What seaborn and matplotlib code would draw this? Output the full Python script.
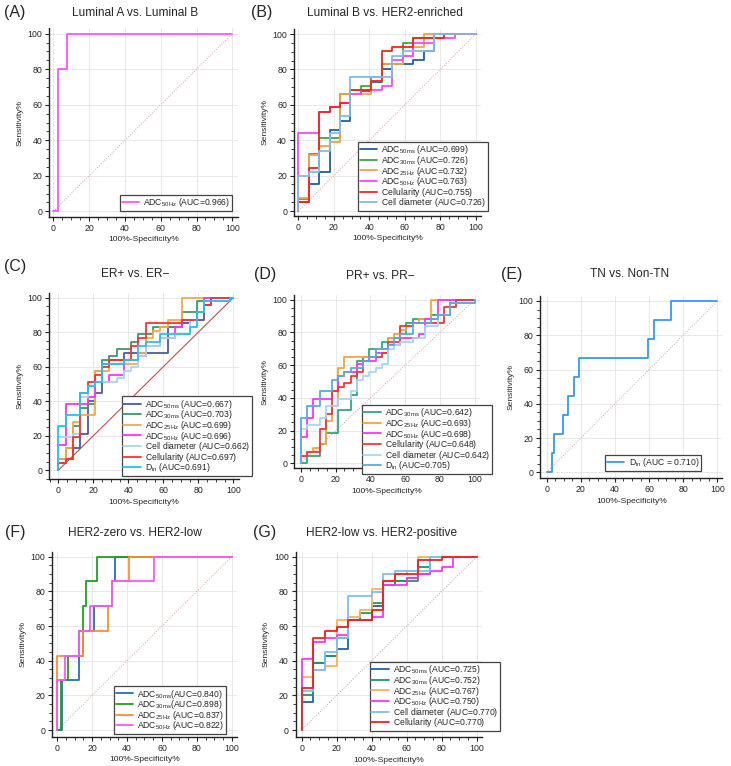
import matplotlib
matplotlib.use("Agg")
import matplotlib.pyplot as plt
import seaborn as sns
from matplotlib.ticker import MultipleLocator

# ROC step curves: fpr = 100%-specificity where sensitivity jumps, tpr = level held after it
a_labels = ["ADC$_{\\mathrm{50Hz}}$ (AUC=0.966)"]
a_colors = ["#ff55ff"]
a_fpr = [[0, 2.4, 7.5]]
a_tpr = [[0, 80, 100]]

b_labels = ["ADC$_{\\mathrm{50ms}}$ (AUC=0.699)", "ADC$_{\\mathrm{30ms}}$ (AUC=0.726)",
            "ADC$_{\\mathrm{25Hz}}$ (AUC=0.732)", "ADC$_{\\mathrm{50Hz}}$ (AUC=0.763)",
            "Cellularity (AUC=0.755)", "Cell diameter (AUC=0.726)"]
b_colors = ["#1f5fa8", "#3cab3c", "#f5a04a", "#ff44ff", "#ff2020", "#7fbcf0"]
b_fpr = [
    [0, 5.9, 11.8, 17.6, 23.5, 29.4, 35.3, 41.2, 47.1, 52.9, 64.7, 70.6, 76.5],
    [0, 5.9, 11.8, 23.5, 29.4, 35.3, 41.2, 47.1, 58.8, 64.7, 76.5],
    [0, 5.9, 11.8, 17.6, 23.5, 41.2, 47.1, 58.8, 64.7, 70.6],
    [0, 11.8, 17.6, 23.5, 29.4, 35.3, 47.1, 52.9, 58.8, 64.7, 76.5, 88.2],
    [0, 5.9, 11.8, 17.6, 23.5, 29.4, 41.2, 47.1, 52.9, 64.7, 82.4],
    [0, 5.9, 11.8, 17.6, 23.5, 29.4, 52.9, 58.8, 76.5],
]
b_tpr = [
    [5, 15, 22, 46, 51, 66, 68, 73, 80.5, 83, 85.4, 90.2, 100],
    [7, 32, 41.5, 66, 68.3, 70.7, 75.6, 82.9, 95.1, 97.6, 100],
    [7.3, 31.7, 36.6, 39, 65.9, 73.2, 82.9, 87.8, 92.7, 100],
    [43.9, 56.1, 58.5, 61, 65.9, 68.3, 70.7, 85.4, 87.8, 95.1, 97.6, 100],
    [4.9, 24.4, 56.1, 58.5, 61, 68.3, 73.2, 90.2, 92.7, 97.6, 100],
    [19.5, 22, 34.1, 43.9, 53.7, 75.6, 87.8, 90.2, 100],
]

c_labels = ["ADC$_{\\mathrm{50ms}}$ (AUC=0.667)", "ADC$_{\\mathrm{30ms}}$ (AUC=0.703)",
            "ADC$_{\\mathrm{25Hz}}$ (AUC=0.699)", "ADC$_{\\mathrm{50Hz}}$ (AUC=0.696)",
            "Cell diameter (AUC=0.662)", "Cellularity (AUC=0.697)", "D$_{\\mathrm{in}}$ (AUC=0.691)"]
c_colors = ["#4a5aa8", "#3a9a6a", "#f8a848", "#ff33ff", "#a8d4f5", "#ff3030", "#22c4f2"]
c_fpr = [
    [0, 4.2, 8.3, 12.5, 16.7, 20.8, 25, 29.2, 37.5, 62.5, 66.7, 70.8, 75, 83.3, 87.5],
    [0, 4.2, 8.3, 12.5, 16.7, 20.8, 25, 29.2, 33.3, 41.7, 45.8, 54.2, 70.8, 79.2, 97.9],
    [0, 4.2, 8.3, 12.5, 20.8, 29.2, 45.8, 50, 54.2, 58.3, 62.5, 70.8],
    [0, 4.2, 12.5, 16.7, 20.8, 29.2, 37.5, 45.8, 50, 58.3, 66.7, 70.8, 79.2, 83.3],
    [0, 8.3, 12.5, 16.7, 20.8, 29.2, 33.3, 37.5, 41.7, 45.8, 50, 58.3, 66.7, 75, 79.2, 83.3, 97.9],
    [0, 4.2, 8.3, 12.5, 16.7, 20.8, 25, 29.2, 41.7, 45.8, 50, 70.8, 79.2, 83.3, 87.5],
    [0, 4.2, 12.5, 16.7, 20.8, 25, 37.5, 45.8, 50, 58.3, 75, 79.2, 83.3, 97.9],
]
c_tpr = [
    [6.4, 6.4, 12.8, 21.3, 40.4, 44.7, 61.7, 63.8, 68.1, 83, 83, 85.1, 87.2, 95.7, 100],
    [4.3, 12.8, 25.5, 36.2, 38.3, 57.4, 63.8, 66, 70.2, 74.5, 78.7, 83, 91.5, 97.9, 100],
    [6.4, 12.8, 27.7, 31.9, 57.4, 61.7, 68.1, 76.6, 80.9, 83, 87.2, 100],
    [14.9, 38.3, 38.3, 42.6, 51.1, 55.3, 63.8, 66, 72.3, 76.6, 83, 87.2, 91.5, 100],
    [19.1, 21.3, 42.6, 48.9, 51.1, 51.1, 53.2, 57.4, 59.6, 66, 72.3, 76.6, 78.7, 87.2, 91.5, 97.9, 100],
    [4.3, 6.4, 19.1, 44.7, 51.1, 55.3, 59.6, 63.8, 72.3, 76.6, 85.1, 87.2, 91.5, 95.7, 100],
    [25.5, 31.9, 44.7, 48.9, 51.1, 61.7, 63.8, 72.3, 74.5, 78.7, 83, 91.5, 97.9, 100],
]

d_labels = ["ADC$_{\\mathrm{30ms}}$ (AUC=0.642)", "ADC$_{\\mathrm{25Hz}}$ (AUC=0.693)",
            "ADC$_{\\mathrm{50Hz}}$ (AUC=0.698)", "Cellularity (AUC=0.648)",
            "Cell diameter (AUC=0.642)", "D$_{\\mathrm{in}}$ (AUC=0.705)"]
d_colors = ["#2fa878", "#ffa040", "#ff33ff", "#ff3333", "#a8d4f8", "#5aa8e8"]
d_fpr = [
    [0, 3.6, 10.7, 14.3, 21.4, 28.6, 32.1, 35.7, 39.3, 46.4, 50, 57.1, 60.7, 64.3, 75, 85.7, 89.3],
    [0, 3.6, 7.1, 10.7, 14.3, 17.9, 21.4, 25, 35.7, 42.9, 50, 53.6, 57.1, 60.7, 64.3, 67.9, 75],
    [0, 3.6, 7.1, 14.3, 17.9, 21.4, 25, 32.1, 35.7, 42.9, 50, 57.1, 67.9, 71.4, 78.6],
    [0, 3.6, 10.7, 14.3, 17.9, 21.4, 25, 28.6, 32.1, 35.7, 39.3, 46.4, 50, 57.1, 64.3, 82.1, 89.3],
    [0, 3.6, 10.7, 14.3, 21.4, 28.6, 32.1, 35.7, 39.3, 42.9, 46.4, 50, 53.6, 57.1, 64.3, 71.4, 78.6, 85.7, 100],
    [0, 3.6, 10.7, 17.9, 21.4, 25, 28.6, 35.7, 39.3, 42.9, 50, 53.6, 57.1, 64.3, 75, 78.6, 85.7, 100],
]
d_tpr = [
    [0, 4.7, 11.6, 18.6, 32.6, 41.9, 62.8, 65.1, 69.8, 74.4, 76.7, 79.1, 86, 88.4, 90.7, 97.7, 100],
    [4.7, 7, 9.3, 11.6, 25.6, 34.9, 58.1, 65.1, 65.1, 69.8, 76.7, 79.1, 81.4, 83.7, 86, 88.4, 100],
    [16.3, 27.9, 39.5, 39.5, 44.2, 53.5, 55.8, 60.5, 62.8, 67.4, 72.1, 76.7, 79.1, 88.4, 100],
    [4.7, 7, 20.9, 30.2, 44.2, 46.5, 48.8, 53.5, 55.8, 62.8, 65.1, 67.4, 74.4, 83.7, 86, 95.3, 100],
    [20.9, 23.3, 27.9, 34.9, 39.5, 44.2, 51.2, 53.5, 55.8, 58.1, 60.5, 69.8, 72.1, 74.4, 76.7, 83.7, 90.7, 97.7, 100],
    [27.9, 34.9, 44.2, 51.2, 53.5, 55.8, 58.1, 62.8, 65.1, 69.8, 72.1, 76.7, 79.1, 86, 88.4, 90.7, 97.7, 100],
]

e_labels = ["D$_{\\mathrm{in}}$ (AUC = 0.710)"]
e_colors = ["#3399ff"]
e_fpr = [[0, 2.9, 4.5, 9.4, 12.7, 16, 19.1, 59.6, 62.9, 72.7]]
e_tpr = [[0, 11.1, 22.2, 33.3, 44.4, 55.6, 66.7, 77.8, 88.9, 100]]

f_labels = ["ADC$_{\\mathrm{50ms}}$(AUC=0.840)", "ADC$_{\\mathrm{30ms}}$(AUC=0.898)",
            "ADC$_{\\mathrm{25Hz}}$ (AUC=0.837)", "ADC$_{\\mathrm{50Hz}}$ (AUC=0.822)"]
f_colors = ["#2a6ebb", "#1fa01f", "#ff8c30", "#ff55ff"]
f_fpr = [
    [0, 2.9, 12.5, 14.6, 20.8, 31.3, 32.8],
    [0, 2.0, 6.3, 12.5, 14.6, 16.7, 22.9],
    [0, 14.6, 29.2, 31.3, 41.1],
    [0, 4.2, 12.5, 18.8, 31.3, 55.2],
]
f_tpr = [
    [0, 28.6, 42.9, 57.1, 71.4, 85.7, 100],
    [0, 28.6, 42.9, 57.1, 71.4, 85.7, 100],
    [42.9, 57.1, 71.4, 85.7, 100],
    [28.6, 42.9, 57.1, 71.4, 85.7, 100],
]

g_labels = ["ADC$_{\\mathrm{50ms}}$ (AUC=0.725)", "ADC$_{\\mathrm{30ms}}$ (AUC=0.752)",
            "ADC$_{\\mathrm{25Hz}}$ (AUC=0.767)", "ADC$_{\\mathrm{50Hz}}$ (AUC=0.750)",
            "Cell diameter (AUC=0.770)", "Cellularity (AUC=0.770)"]
g_colors = ["#2060b0", "#1a9a6a", "#ffb060", "#ff33ff", "#7fbff5", "#ff1a1a"]
g_fpr = [
    [0, 6.7, 13.3, 20, 26.7, 40, 46.7, 53.3, 60, 66.7, 73.3],
    [0, 6.7, 13.3, 20, 26.7, 33.3, 40, 46.7, 53.3, 66.7, 73.3],
    [0, 6.7, 13.3, 20, 26.7, 33.3, 40, 46.7, 53.3, 60, 66.7],
    [0, 6.7, 13.3, 20, 26.7, 40, 46.7, 53.3, 60, 66.7, 73.3, 80, 86.7],
    [0, 6.7, 13.3, 20, 26.7, 40, 46.7, 53.3, 73.3],
    [0, 6.7, 13.3, 20, 26.7, 40, 46.7, 53.3, 66.7, 80],
]
g_tpr = [
    [16.3, 38.8, 42.9, 46.9, 63.3, 71.4, 83.7, 85.7, 87.8, 89.8, 100],
    [20.4, 38.8, 42.9, 53.1, 63.3, 67.3, 73.5, 83.7, 85.7, 93.9, 100],
    [30.6, 34.7, 36.7, 63.3, 65.3, 69.4, 81.6, 85.7, 89.8, 91.8, 100],
    [40.8, 51, 53.1, 55.1, 63.3, 65.3, 83.7, 83.7, 87.8, 89.8, 91.8, 93.9, 100],
    [22.4, 34.7, 44.9, 53.1, 77.6, 79.6, 89.8, 91.8, 100],
    [24.5, 53.1, 57.1, 59.2, 63.3, 69.4, 85.7, 89.8, 98, 100],
]

sns.set_theme(style="ticks")
plt.rcParams["font.family"] = ["Liberation Sans", "DejaVu Sans"]
plt.rcParams["mathtext.fontset"] = "custom"
plt.rcParams["mathtext.rm"] = "Liberation Sans"
plt.rcParams["mathtext.it"] = "Liberation Sans:italic"

W, H = 731, 766
fig = plt.figure(figsize=(W / 100, H / 100), dpi=100)


def panel(anchor, letter, letter_xy, title, title_xy, labels, colors, fprs, tprs,
          leg_corner, diag_solid=False):
    x0, x100, y0, y100, left, bottom = anchor
    sx = (x100 - x0) / 100
    sy = (y0 - y100) / 100
    xlo, xhi = (left - x0) / sx, 103
    ylo, yhi = (y0 - bottom) / sy, 103
    right = x0 + xhi * sx
    top = y0 - yhi * sy
    ax = fig.add_axes([left / W, 1 - bottom / H, (right - left) / W, (bottom - top) / H])
    ax.set_xlim(xlo, xhi)
    ax.set_ylim(ylo, yhi)
    ax.grid(True, color="#e4e4e4", lw=0.6)
    ax.set_axisbelow(True)
    if diag_solid:
        ax.plot([0, 100], [0, 100], color="#c0504d", lw=0.8)
    else:
        ax.plot([0, 100], [0, 100], color="#e89a9a", lw=0.7, ls=":")
    for lab, col, xs, ys in zip(labels, colors, fprs, tprs):
        # phantom subscript keeps every legend row the same height
        if "$" not in lab:
            lab = lab + "$_{\\ }$"
        sns.lineplot(x=[0] + xs + [100], y=[0] + ys + [100], ax=ax, color=col, lw=1.3,
                     estimator=None, sort=False, drawstyle="steps-post", label=lab)
    ax.xaxis.set_major_locator(MultipleLocator(20))
    ax.yaxis.set_major_locator(MultipleLocator(20))
    ax.xaxis.set_minor_locator(MultipleLocator(5))
    ax.yaxis.set_minor_locator(MultipleLocator(5))
    ax.tick_params(which="major", length=3, width=0.8, labelsize=6.3, pad=2, color="#222")
    ax.tick_params(which="minor", length=2, width=0.6, color="#222")
    sns.despine(ax=ax)
    for s in ["left", "bottom"]:
        ax.spines[s].set_color("#222")
        ax.spines[s].set_linewidth(1.0)
    ax.set_xlabel("100%-Specificity%", fontsize=6.1, labelpad=2.5)
    ax.set_ylabel("Sensitivity%", fontsize=6.1, labelpad=3)
    leg = ax.legend(loc="lower right", bbox_to_anchor=(leg_corner[0] / W, 1 - leg_corner[1] / H),
                    bbox_transform=fig.transFigure, fontsize=6.2, handlelength=2.0,
                    handletextpad=0.5, borderpad=0.2, labelspacing=-0.28, fancybox=False,
                    framealpha=1, edgecolor="#444", borderaxespad=0)
    leg.get_frame().set_linewidth(0.9)
    fig.text(letter_xy[0] / W, 1 - letter_xy[1] / H, letter, fontsize=11.5, ha="center", va="center")
    fig.text(title_xy[0] / W, 1 - title_xy[1] / H, title, fontsize=8.6, ha="center", va="center")
    return ax


panel((53.3, 232.3, 211.3, 33.7, 49.3, 216.7), "(A)", (15, 13), "Luminal A vs. Luminal B", (135, 13),
      a_labels, a_colors, a_fpr, a_tpr, (232, 211))
panel((298.3, 475.7, 211, 34, 294, 216), "(B)", (262, 13), "Luminal B vs. HER2-enriched", (385, 13),
      b_labels, b_colors, b_fpr, b_tpr, (488, 211))
panel((58.3, 233.3, 470.3, 297.7, 49.3, 479.3), "(C)", (15, 266), "ER+ vs. ER\u2212", (135, 274),
      c_labels, c_colors, c_fpr, c_tpr, (252, 476), diag_solid=True)
panel((301, 474.7, 463.3, 299.7, 294.3, 468.3), "(D)", (265, 275), "PR+ vs. PR\u2212", (380, 276),
      d_labels, d_colors, d_fpr, d_tpr, (492, 474))
panel((546.7, 717.3, 472.3, 301, 540.3, 478.3), "(E)", (512, 274), "TN vs. Non-TN", (630, 274),
      e_labels, e_colors, e_fpr, e_tpr, (701, 471))
panel((57.3, 231.7, 730, 556.7, 52.3, 736.7), "(F)", (15, 533), "HER2-zero vs. HER2-low", (135, 533),
      f_labels, f_colors, f_fpr, f_tpr, (226, 734))
panel((301.7, 476.7, 730, 556.7, 295.7, 737.3), "(G)", (265, 533), "HER2-low vs. HER2-positive", (382, 533),
      g_labels, g_colors, g_fpr, g_tpr, (500, 731))

fig.savefig("out.png", dpi=100)
